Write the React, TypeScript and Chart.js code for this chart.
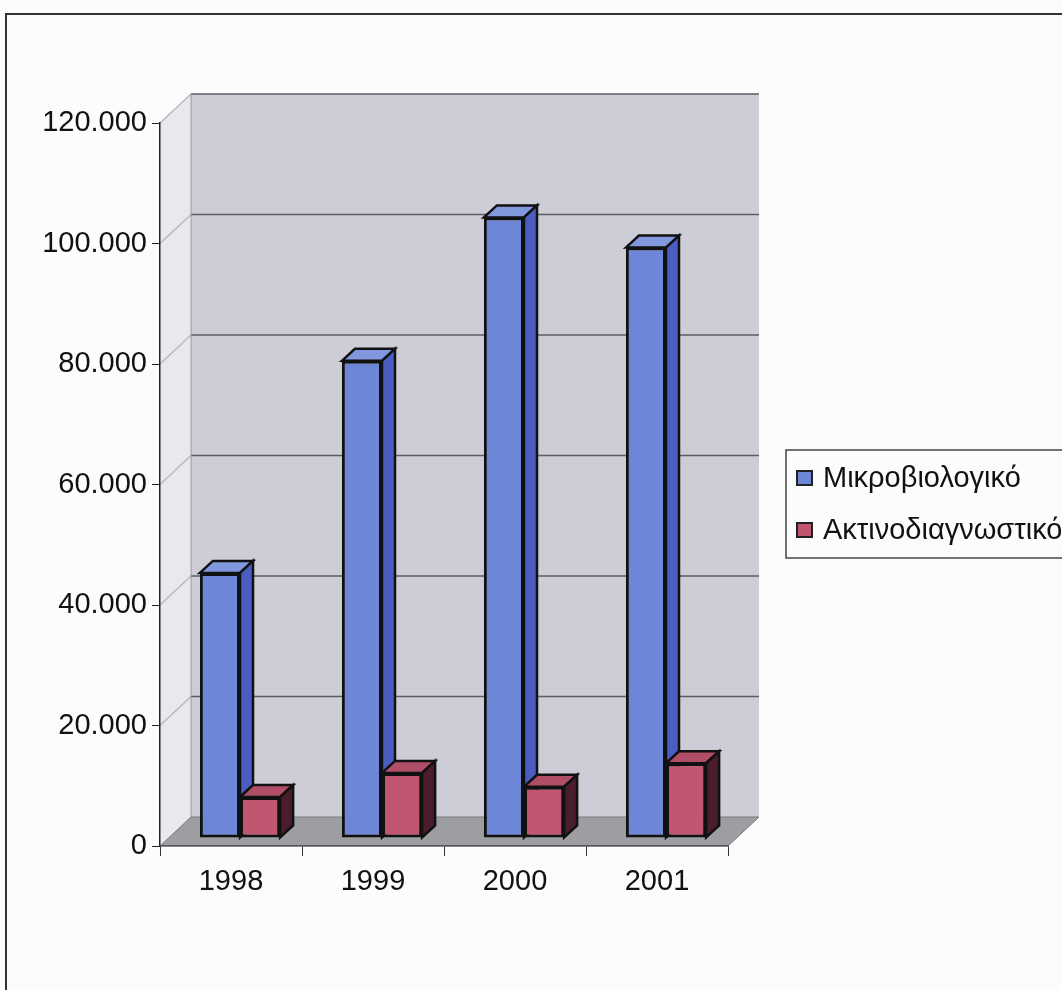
import React, { useEffect, useRef } from "react";
import { Chart, registerables } from "chart.js";

Chart.register(...registerables);

// Data
const years = ["1998", "1999", "2000", "2001"];
const microbiology = [44000, 79200, 103000, 98000];
const radiology = [6800, 10800, 8500, 12400];
const seriesNames = ["Μικροβιολογικό", "Ακτινοδιαγνωστικό"];
const yTicks = [0, 20000, 40000, 60000, 80000, 100000, 120000];

const FONT = '"Liberation Sans", Arial, Helvetica, sans-serif';

const palette = [
  { front: "#6d86d8", top: "#8198de", side: "#4a5ec2" },
  { front: "#c0566f", top: "#b04d67", side: "#4a1c2c" },
];

// 3D geometry of the plot box
const WALL = { dx: 31, dy: -29 };
const BAR_SHIFT = { x: 9, y: -8 };
const BAR_DEPTH = { dx: 13, dy: -12 };

function fmt(v: number): string {
  return String(v).replace(/\B(?=(\d{3})+(?!\d))/g, ".");
}

function poly(ctx: CanvasRenderingContext2D, pts: number[][], fill: string, stroke?: string, lw = 1) {
  ctx.beginPath();
  ctx.moveTo(pts[0][0], pts[0][1]);
  for (let i = 1; i < pts.length; i++) ctx.lineTo(pts[i][0], pts[i][1]);
  ctx.closePath();
  ctx.fillStyle = fill;
  ctx.fill();
  if (stroke) {
    ctx.strokeStyle = stroke;
    ctx.lineWidth = lw;
    ctx.stroke();
  }
}

const scene3d = {
  id: "scene3d",
  beforeDraw(chart: any) {
    const ctx: CanvasRenderingContext2D = chart.ctx;
    const { left, right, bottom } = chart.chartArea;
    const ys = chart.scales.y;
    const W = chart.width;
    const H = chart.height;
    ctx.save();
    ctx.fillStyle = "#fbfdfd";
    ctx.fillRect(0, 0, W, H);

    // outer frame
    ctx.strokeStyle = "#333";
    ctx.lineWidth = 2;
    ctx.beginPath();
    ctx.moveTo(6, H);
    ctx.lineTo(6, 14);
    ctx.lineTo(W, 14);
    ctx.stroke();

    const topY = ys.getPixelForValue(yTicks[yTicks.length - 1]);
    const { dx, dy } = WALL;

    // side wall
    poly(ctx, [[left, bottom], [left, topY], [left + dx, topY + dy], [left + dx, bottom + dy]], "#e8e9ed");
    // back wall
    poly(ctx, [[left + dx, topY + dy], [right + dx, topY + dy], [right + dx, bottom + dy], [left + dx, bottom + dy]], "#cccdd6");
    // floor
    poly(ctx, [[left, bottom], [right, bottom], [right + dx, bottom + dy], [left + dx, bottom + dy]], "#9d9ea2", "#7a7b80", 1);

    // gridlines on the walls
    for (const v of yTicks) {
      if (v === 0) continue;
      const py = ys.getPixelForValue(v);
      ctx.strokeStyle = "#b8b9bf";
      ctx.lineWidth = 1.5;
      ctx.beginPath();
      ctx.moveTo(left, py);
      ctx.lineTo(left + dx, py + dy);
      ctx.stroke();
      ctx.strokeStyle = "#5c5d63";
      ctx.lineWidth = 1.5;
      ctx.beginPath();
      ctx.moveTo(left + dx, py + dy);
      ctx.lineTo(right + dx, py + dy);
      ctx.stroke();
    }
    ctx.strokeStyle = "#9a9ba2";
    ctx.lineWidth = 1;
    ctx.beginPath();
    ctx.moveTo(left + dx, topY + dy);
    ctx.lineTo(left + dx, bottom + dy);
    ctx.stroke();
    ctx.restore();
  },
  beforeDatasetsDraw(chart: any) {
    const ctx: CanvasRenderingContext2D = chart.ctx;
    const n = chart.data.labels.length;
    ctx.save();
    ctx.translate(BAR_SHIFT.x, BAR_SHIFT.y);
    const { dx, dy } = BAR_DEPTH;
    for (let i = 0; i < n; i++) {
      for (let d = 0; d < chart.data.datasets.length; d++) {
        const el = chart.getDatasetMeta(d).data[i];
        if (!el) continue;
        const { x, y, base, width } = el.getProps(["x", "y", "base", "width"], true);
        const l = x - width / 2;
        const r = x + width / 2;
        const c = palette[d];
        el.draw(ctx);
        ctx.lineJoin = "miter";
        poly(ctx, [[l, y], [l + dx, y + dy], [r + dx, y + dy], [r, y]], c.top, "#111", 2.5);
        poly(ctx, [[r, y], [r + dx, y + dy], [r + dx, base + dy], [r, base]], c.side, "#111", 2.5);
      }
    }
    ctx.restore();
    return false;
  },
  afterDraw(chart: any) {
    const ctx: CanvasRenderingContext2D = chart.ctx;
    ctx.save();
    // legend
    ctx.strokeStyle = "#444";
    ctx.lineWidth = 1.5;
    ctx.strokeRect(786, 450, 300, 108);
    const rows = [478, 530];
    chart.data.datasets.forEach((ds: any, k: number) => {
      const cy = rows[k];
      ctx.fillStyle = palette[k].front;
      ctx.fillRect(797, cy - 7, 15, 14);
      ctx.strokeStyle = "#222";
      ctx.lineWidth = 2;
      ctx.strokeRect(797, cy - 7, 15, 14);
      ctx.fillStyle = "#111";
      ctx.font = `29px ${FONT}`;
      ctx.textBaseline = "middle";
      ctx.textAlign = "left";
      ctx.fillText(ds.label, 823, cy + 1);
    });
    ctx.restore();
  },
};

export default function App() {
  const ref = useRef<HTMLCanvasElement | null>(null);

  useEffect(() => {
    if (!ref.current) return;
    const chart = new Chart(ref.current, {
      type: "bar",
      data: {
        labels: years,
        datasets: [
          {
            label: seriesNames[0],
            data: microbiology,
            backgroundColor: palette[0].front,
            borderColor: "#111",
            borderWidth: 3,
            borderSkipped: false,
          },
          {
            label: seriesNames[1],
            data: radiology,
            backgroundColor: palette[1].front,
            borderColor: "#111",
            borderWidth: 3,
            borderSkipped: false,
          },
        ],
      },
      options: {
        animation: false,
        responsive: true,
        maintainAspectRatio: false,
        layout: { padding: { left: 0, right: 334, top: 123, bottom: 0 } },
        datasets: { bar: { categoryPercentage: 0.565, barPercentage: 1 } },
        plugins: { legend: { display: false }, tooltip: { enabled: false } },
        scales: {
          x: {
            afterFit: (s: any) => {
              s.height = 144;
            },
            grid: {
              offset: true,
              drawOnChartArea: false,
              drawTicks: true,
              tickLength: 10,
              color: "#333",
            },
            border: { display: true, color: "#555", width: 1.5 },
            ticks: { color: "#111", font: { family: FONT, size: 29 }, padding: 9 },
          },
          y: {
            min: 0,
            max: 120000,
            afterFit: (s: any) => {
              s.width = 160;
            },
            afterBuildTicks: (s: any) => {
              s.ticks = yTicks.map((v) => ({ value: v }));
            },
            grid: { drawOnChartArea: false, drawTicks: true, tickLength: 8, color: "#222" },
            border: { display: true, color: "#222", width: 1.5 },
            ticks: {
              color: "#111",
              font: { family: FONT, size: 29 },
              padding: 5,
              callback: (v: any) => fmt(Number(v)),
            },
          },
        },
      },
      plugins: [scene3d],
    });
    return () => chart.destroy();
  }, []);

  return (
    <div style={{ position: "fixed", left: 0, top: 0, width: 1062, height: 990 }}>
      <canvas ref={ref} />
    </div>
  );
}
